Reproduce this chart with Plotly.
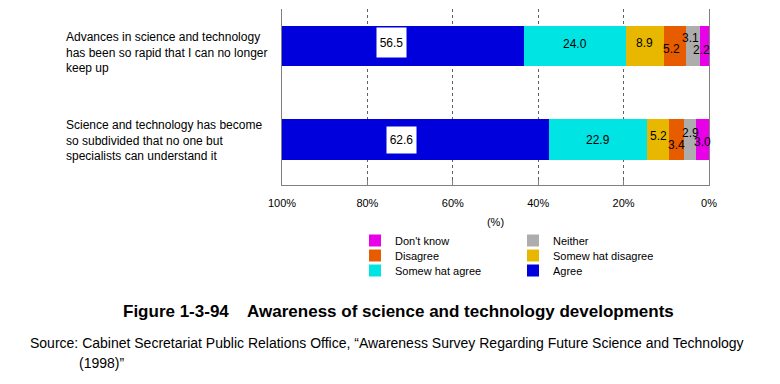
import plotly.graph_objects as go

# ---------------- data ----------------
categories = [
    "Advances in science and technology<br>has been so rapid that I can no longer<br>keep up",
    "Science and technology has become<br>so subdivided that no one but<br>specialists can understand it",
]
legend_names = ["Don't know", "Neither", "Disagree", "Somew hat disagree", "Somew hat agree", "Agree"]
dont_know = [2.2, 3.0]
neither = [3.1, 2.9]
disagree = [5.2, 3.4]
somewhat_disagree = [8.9, 5.2]
somewhat_agree = [24.0, 22.9]
agree = [56.5, 62.6]
tick_values = [100, 80, 60, 40, 20, 0]
tick_labels = ["100%", "80%", "60%", "40%", "20%", "0%"]
axis_title = "(%)"
title_text = "Figure 1-3-94    Awareness of science and technology developments"
source_lines = [
    "Source: Cabinet Secretariat Public Relations Office, \u201cAwareness Survey Regarding Future Science and Technology",
    "(1998)\u201d",
]

series_values = [dont_know, neither, disagree, somewhat_disagree, somewhat_agree, agree]

# ---------------- styles / layout ----------------
FONT = "Liberation Sans, Arial, sans-serif"
colors = ["#E800E8", "#ADADAD", "#E85C00", "#E8B800", "#00E4E4", "#0000DC"]
OFF = 8  # page body margin offset
W, H = 780 - OFF, 384 - OFF
PL, PR, PT, PB = 282, 709, 9, 185  # plot area in reference page pixels


def px_x(x):
    return (x - PL) / (PR - PL)


def px_y(y):
    return (PB - y) / (PB - PT)


# manual label nudges (series index, category index) -> (xshift, yshift)
label_nudges = {
    (0, 0): (-3, -4), (1, 0): (-2, 8), (2, 0): (-4, -3), (3, 0): (-1, 3), (4, 0): (0, 2), (5, 0): (-12, 4),
    (0, 1): (0, -3), (1, 1): (0, 6), (2, 1): (0, -6), (3, 1): (0, 3), (4, 1): (0, -1), (5, 1): (-14, -1),
}
boxed_series = {5}
legend_cols_px = [355, 513]
legend_rows_px = [226, 241, 256]

fig = go.Figure()
legend_layouts = {}
for i, (name, vals) in enumerate(zip(legend_names, series_values)):
    lid = "legend" if i == 0 else f"legend{i + 1}"
    fig.add_trace(go.Bar(
        orientation="h", x=vals, y=categories, name=name,
        marker=dict(color=colors[i], line=dict(width=0)),
        width=0.43, legend=lid, hoverinfo="x+name",
    ))
    legend_layouts[lid] = dict(
        x=px_x(legend_cols_px[i % 2]), y=px_y(legend_rows_px[i // 2]),
        yanchor="top", xanchor="left", font=dict(family=FONT, size=11, color="black"),
        bgcolor="rgba(0,0,0,0)", itemwidth=30, itemclick=False,
    )

annotations = []
for j, cat in enumerate(categories):
    base = 0.0
    for i, vals in enumerate(series_values):
        v = vals[j]
        centre = base + v / 2
        base += v
        xs, ys = label_nudges.get((i, j), (0, 0))
        ann = dict(x=centre, y=cat, xref="x", yref="y", text=f"{v:.1f}", showarrow=False,
                   font=dict(family=FONT, size=12, color="black"), xshift=xs, yshift=ys)
        if i in boxed_series:
            ann.update(bgcolor="white", width=27, height=27 if j == 0 else 24)
        annotations.append(ann)

for j, cat in enumerate(categories):
    annotations.append(dict(x=px_x(64), y=cat, xref="paper", yref="y", text=cat, showarrow=False,
                            xanchor="left", align="left", yshift=-6 if j == 0 else -1,
                            font=dict(family=FONT, size=12, color="black")))

annotations.append(dict(x=px_x(398), y=px_y(311), xref="paper", yref="paper",
                        text=f"<b>{title_text}</b>", showarrow=False, xanchor="center", yanchor="middle",
                        font=dict(family=FONT, size=17, color="black")))
annotations.append(dict(x=px_x(28), y=px_y(343), xref="paper", yref="paper",
                        text=source_lines[0], showarrow=False, xanchor="left", yanchor="middle",
                        font=dict(family=FONT, size=14, color="black")))
annotations.append(dict(x=px_x(77), y=px_y(363), xref="paper", yref="paper",
                        text=source_lines[1], showarrow=False, xanchor="left", yanchor="middle",
                        font=dict(family=FONT, size=14, color="black")))

fig.update_layout(
    width=W, height=H,
    margin=dict(l=PL - OFF, r=W - (PR - OFF), t=PT - OFF, b=H - (PB - OFF), autoexpand=False),
    paper_bgcolor="white", plot_bgcolor="white",
    barmode="stack", bargap=0,
    font=dict(family=FONT, size=11, color="black"),
    showlegend=True,
    annotations=annotations,
    xaxis=dict(
        range=[100, 0], tickmode="array", tickvals=tick_values, ticktext=tick_labels,
        ticks="inside", ticklen=5, tickcolor="#808080", ticklabelstandoff=8,
        tickfont=dict(family=FONT, size=11, color="black"),
        showline=True, linecolor="#808080", linewidth=1,
        showgrid=True, gridcolor="#606060", griddash="dot", gridwidth=1, zeroline=False,
        title=dict(text=axis_title, font=dict(family=FONT, size=11, color="black"), standoff=10),
        fixedrange=True,
    ),
    yaxis=dict(
        type="category", categoryorder="array", categoryarray=categories,
        range=[1.487, -0.396], showticklabels=False, ticks="",
        showline=True, mirror=True, linecolor="#808080", linewidth=1,
        showgrid=False, zeroline=False, fixedrange=True,
    ),
    **legend_layouts,
)

fig.write_html("out.html")
